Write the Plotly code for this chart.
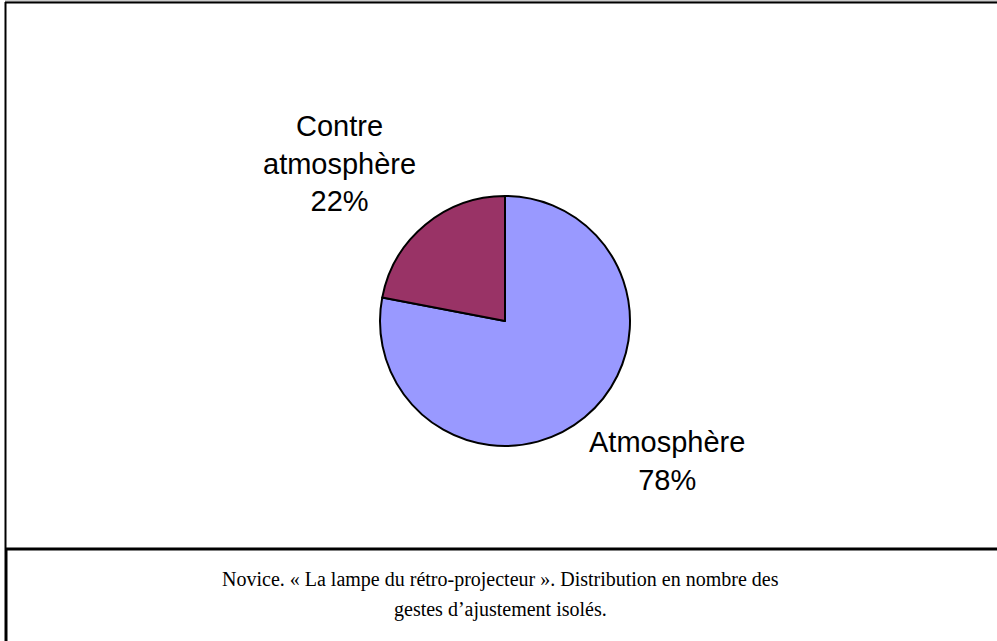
import plotly.graph_objects as go

labels = ["Atmosphère", "Contre atmosphère"]
values = [78, 22]
colors = ["#9999FF", "#993366"]
label_text = ["Atmosphère<br>78%", "Contre<br>atmosphère<br>22%"]
caption_lines = ["Novice. « La lampe du rétro-projecteur ». Distribution en nombre des",
                 "gestes d’ajustement isolés."]

W, H = 997, 641

fig = go.Figure()

# pie centred near (505, 321) px, radius ~125 px
cx, cy, r = 505, 321, 125
fig.add_trace(go.Pie(
    labels=labels,
    values=values,
    marker=dict(colors=colors, line=dict(color="black", width=2)),
    sort=False,
    direction="clockwise",
    rotation=0,
    textinfo="none",
    hoverinfo="label+percent",
    showlegend=False,
    domain=dict(x=[(cx - r) / W, (cx + r) / W], y=[1 - (cy + r) / H, 1 - (cy - r) / H]),
))

label_font = dict(family="Liberation Sans, Arial", size=29, color="black")
# outside labels
fig.add_annotation(x=667 / W, y=1 - 461 / H, text=label_text[0], showarrow=False,
                   xref="paper", yref="paper", xanchor="center", yanchor="middle", font=label_font)
fig.add_annotation(x=339 / W, y=1 - 163 / H, text=label_text[1], showarrow=False,
                   xref="paper", yref="paper", xanchor="center", yanchor="middle", font=label_font)

# caption, one annotation per line to get the wider line spacing
cap_font = dict(family="Liberation Serif, Times New Roman", size=20, color="black")
for line, yc in zip(caption_lines, [579, 609]):
    fig.add_annotation(x=500 / W, y=1 - yc / H, showarrow=False, xref="paper", yref="paper",
                       xanchor="center", yanchor="middle", text=line, font=cap_font)

# frame lines
def px_line(x0, y0, x1, y1, color="black", width=2):
    fig.add_shape(type="line", xref="paper", yref="paper",
                  x0=x0 / W, y0=1 - y0 / H, x1=x1 / W, y1=1 - y1 / H,
                  line=dict(color=color, width=width))

px_line(5, 1, W, 1, color="#999999", width=1)
px_line(5, 2.5, W, 2.5, width=2)
px_line(5.5, 2, 5.5, 549, width=2)
px_line(6, 549, 6, H, width=3)
px_line(5, 549, W, 549, width=3)

fig.update_layout(
    width=W, height=H,
    margin=dict(l=0, r=0, t=0, b=0),
    paper_bgcolor="white",
    plot_bgcolor="white",
)

fig.write_html("out.html", config={"displayModeBar": False},
               post_script="document.body.style.margin='0px';")
